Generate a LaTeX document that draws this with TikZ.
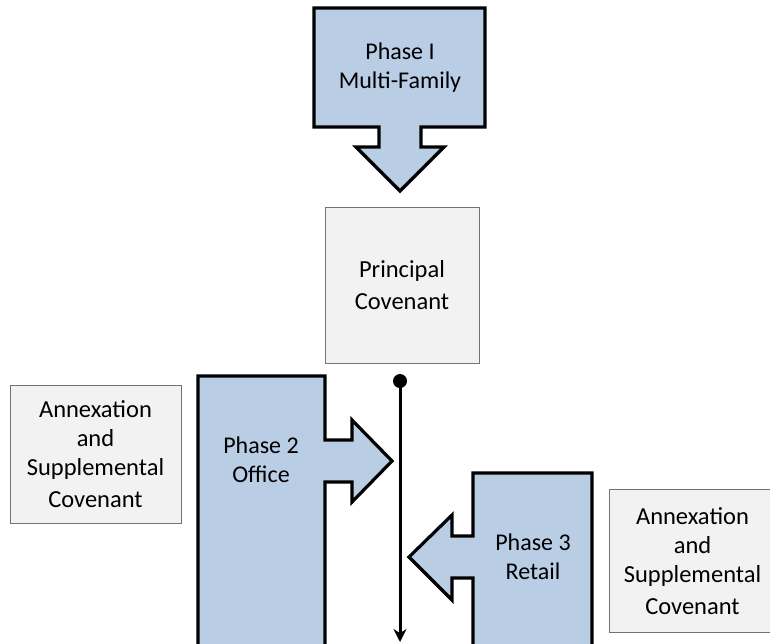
\documentclass[tikz,border=0pt]{standalone}
\usepackage{fontspec}
\setmainfont{Carlito}
\usetikzlibrary{arrows.meta}
\definecolor{phaseblue}{HTML}{B9CDE5}
\definecolor{covgray}{HTML}{F2F2F2}
\begin{document}
\begin{tikzpicture}[x=1pt,y=-1pt,
  phase/.style={draw=black,line width=3.2pt,fill=phaseblue,line join=miter},
  covenant/.style={draw=black!55,line width=1pt,fill=covgray,align=center,
    font=\fontsize{24.5}{29}\selectfont},
  txt/.style={align=center,font=\fontsize{24}{29}\selectfont}]
\useasboundingbox (0,0) rectangle (770,643);
% phase I callout pointing down
\draw[phase] (314,8) -- (485,8) -- (485,127) -- (421,127) -- (421,147) -- (444,147)
  -- (400,191) -- (356,147) -- (379,147) -- (379,127) -- (314,127) -- cycle;
\node[txt] (p1) at (400,68) {Phase I\\Multi-Family};
% the principal covenant
\node[covenant,minimum width=154pt,minimum height=156pt] (pc) at (402,285)
  {Principal\\[3pt]Covenant};
% the time line
\coordinate (top) at (400,381);
\coordinate (bot) at (400,642);
\draw[line width=3pt,-{Stealth[length=13pt,width=13pt]}] (top) -- (bot);
\fill (top) circle (7pt);
% phase 2 callout pointing right
\draw[phase] (198,376) -- (325,376) -- (325,440) -- (352,440) -- (352,420)
  -- (392,461) -- (352,502) -- (352,482) -- (325,482) -- (325,660) -- (198,660) -- cycle;
\node[txt] (p2) at (261,460) {Phase 2\\Office};
% phase 3 callout pointing left
\draw[phase] (473,473) -- (592,473) -- (592,660) -- (473,660) -- (473,578) -- (452,578)
  -- (452,600) -- (409,557) -- (452,515) -- (452,536) -- (473,536) -- cycle;
\node[txt] (p3) at (533,557) {Phase 3\\Retail};
% the annexations
\node[covenant,minimum width=171pt,minimum height=138pt] (ann2) at (95.5,454)
  {Annexation\\and\\Supplemental\\[3pt]Covenant};
\node[covenant,minimum width=166pt,minimum height=143pt,anchor=north west] (ann3)
  at (609,489) {Annexation\\and\\Supplemental\\[3pt]Covenant};
\end{tikzpicture}
\end{document}
